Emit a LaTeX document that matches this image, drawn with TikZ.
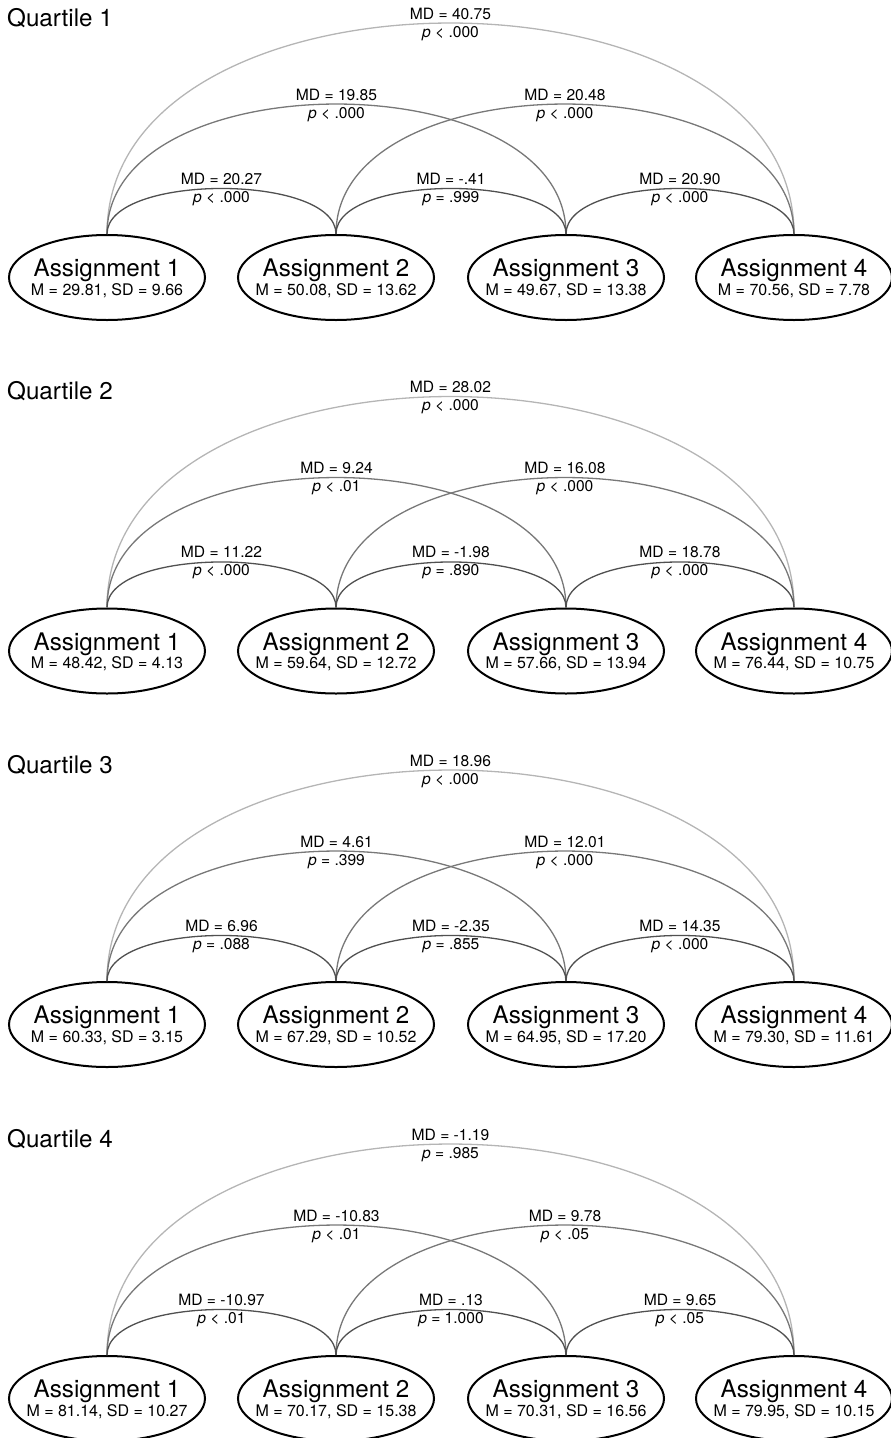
\documentclass[tikz,border=0pt]{standalone}
\usepackage{fontspec}
\setmainfont{TeX Gyre Heros}
\usetikzlibrary{shapes.geometric}
\definecolor{arcS}{HTML}{505050}
\definecolor{arcM}{HTML}{787878}
\definecolor{arcL}{HTML}{B5B5B5}
\tikzset{
  ell/.style={draw, line width=2pt, ellipse, minimum width=196pt, minimum height=85pt, inner sep=0pt},
  big/.style={font=\fontsize{24.2}{28}\selectfont, inner sep=0pt},
  small/.style={font=\fontsize{15.6}{18}\selectfont, inner sep=0pt},
  stat/.style={font=\fontsize{16}{18}\selectfont, inner sep=0pt},
  arcshort/.style={draw=arcS, line width=1.3pt, out=90, in=90, distance=60.7pt},
  arcmed/.style={draw=arcM, line width=1.3pt, out=90, in=90, distance=173.3pt},
  arclong/.style={draw=arcL, line width=1.3pt, out=90, in=90, distance=281.3pt},
  mdl/.style={small, anchor=base, midway, yshift=4pt},
  pl/.style={small, anchor=base, midway, yshift=-14pt},
  qlab/.style={big, anchor=base west},
}
\newcommand\asg[4]{%
  \node[ell] (#1) at (#2,-277.5) {};
  \node[big, anchor=base] at ([yshift=1pt]#1.center) {Assignment #3};
  \node[stat, anchor=base] at ([yshift=-17.5pt]#1.center) {#4};
}
\newcommand\pl[2]{\textit{p} #1 #2}
\begin{document}
\begin{tikzpicture}[x=1pt,y=1pt]
\useasboundingbox (0,0) rectangle (891,-1438);
\clip (0,0) rectangle (891,-1438);
% ---------- Quartile 1
\begin{scope}
\node[qlab] (q1) at (7,-26) {Quartile 1};
\asg{a11}{107}{1}{M = 29.81, SD = 9.66}
\asg{a12}{336}{2}{M = 50.08, SD = 13.62}
\asg{a13}{566}{3}{M = 49.67, SD = 13.38}
\asg{a14}{794}{4}{M = 70.56, SD = 7.78}
\draw[arclong] (a11.north) to node[mdl]{MD = 40.75} node[pl]{\pl{<}{.000}} (a14.north);
\draw[arcmed] (a11.north) to node[mdl]{MD = 19.85} node[pl]{\pl{<}{.000}} (a13.north);
\draw[arcmed] (a12.north) to node[mdl]{MD = 20.48} node[pl]{\pl{<}{.000}} (a14.north);
\draw[arcshort] (a11.north) to node[mdl]{MD = 20.27} node[pl]{\pl{<}{.000}} (a12.north);
\draw[arcshort] (a12.north) to node[mdl]{MD = -.41} node[pl]{\pl{=}{.999}} (a13.north);
\draw[arcshort] (a13.north) to node[mdl]{MD = 20.90} node[pl]{\pl{<}{.000}} (a14.north);
\end{scope}
% ---------- Quartile 2
\begin{scope}[yshift=-373.5pt]
\node[qlab] (q2) at (7,-26) {Quartile 2};
\asg{a21}{107}{1}{M = 48.42, SD = 4.13}
\asg{a22}{336}{2}{M = 59.64, SD = 12.72}
\asg{a23}{566}{3}{M = 57.66, SD = 13.94}
\asg{a24}{794}{4}{M = 76.44, SD = 10.75}
\draw[arclong] (a21.north) to node[mdl]{MD = 28.02} node[pl]{\pl{<}{.000}} (a24.north);
\draw[arcmed] (a21.north) to node[mdl]{MD = 9.24} node[pl]{\pl{<}{.01}} (a23.north);
\draw[arcmed] (a22.north) to node[mdl]{MD = 16.08} node[pl]{\pl{<}{.000}} (a24.north);
\draw[arcshort] (a21.north) to node[mdl]{MD = 11.22} node[pl]{\pl{<}{.000}} (a22.north);
\draw[arcshort] (a22.north) to node[mdl]{MD = -1.98} node[pl]{\pl{=}{.890}} (a23.north);
\draw[arcshort] (a23.north) to node[mdl]{MD = 18.78} node[pl]{\pl{<}{.000}} (a24.north);
\end{scope}
% ---------- Quartile 3
\begin{scope}[yshift=-747pt]
\node[qlab] (q3) at (7,-26) {Quartile 3};
\asg{a31}{107}{1}{M = 60.33, SD = 3.15}
\asg{a32}{336}{2}{M = 67.29, SD = 10.52}
\asg{a33}{566}{3}{M = 64.95, SD = 17.20}
\asg{a34}{794}{4}{M = 79.30, SD = 11.61}
\draw[arclong] (a31.north) to node[mdl]{MD = 18.96} node[pl]{\pl{<}{.000}} (a34.north);
\draw[arcmed] (a31.north) to node[mdl]{MD = 4.61} node[pl]{\pl{=}{.399}} (a33.north);
\draw[arcmed] (a32.north) to node[mdl]{MD = 12.01} node[pl]{\pl{<}{.000}} (a34.north);
\draw[arcshort] (a31.north) to node[mdl]{MD = 6.96} node[pl]{\pl{=}{.088}} (a32.north);
\draw[arcshort] (a32.north) to node[mdl]{MD = -2.35} node[pl]{\pl{=}{.855}} (a33.north);
\draw[arcshort] (a33.north) to node[mdl]{MD = 14.35} node[pl]{\pl{<}{.000}} (a34.north);
\end{scope}
% ---------- Quartile 4
\begin{scope}[yshift=-1121pt]
\node[qlab] (q4) at (7,-26) {Quartile 4};
\asg{a41}{107}{1}{M = 81.14, SD = 10.27}
\asg{a42}{336}{2}{M = 70.17, SD = 15.38}
\asg{a43}{566}{3}{M = 70.31, SD = 16.56}
\asg{a44}{794}{4}{M = 79.95, SD = 10.15}
\draw[arclong] (a41.north) to node[mdl]{MD = -1.19} node[pl]{\pl{=}{.985}} (a44.north);
\draw[arcmed] (a41.north) to node[mdl]{MD = -10.83} node[pl]{\pl{<}{.01}} (a43.north);
\draw[arcmed] (a42.north) to node[mdl]{MD = 9.78} node[pl]{\pl{<}{.05}} (a44.north);
\draw[arcshort] (a41.north) to node[mdl]{MD = -10.97} node[pl]{\pl{<}{.01}} (a42.north);
\draw[arcshort] (a42.north) to node[mdl]{MD = .13} node[pl]{\pl{=}{1.000}} (a43.north);
\draw[arcshort] (a43.north) to node[mdl]{MD = 9.65} node[pl]{\pl{<}{.05}} (a44.north);
\end{scope}
\end{tikzpicture}
\end{document}
